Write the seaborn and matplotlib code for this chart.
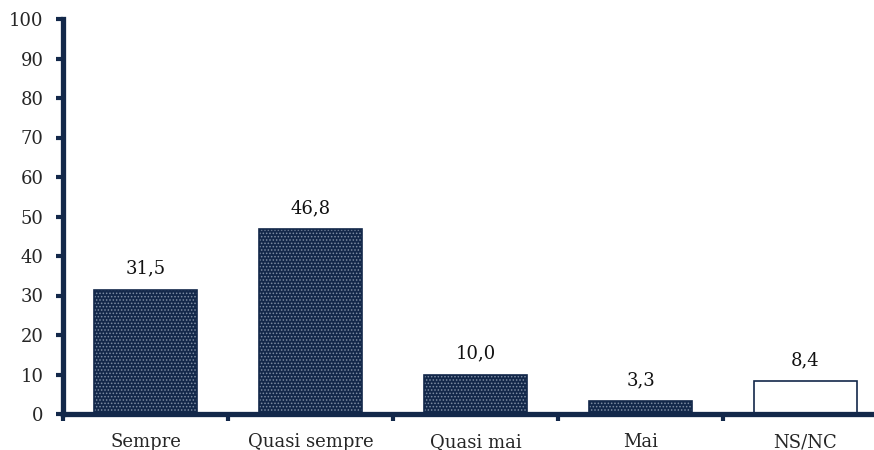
import pandas as pd
import seaborn as sns
import matplotlib.pyplot as plt

categories = ['Sempre', 'Quasi sempre', 'Quasi mai', 'Mai', 'NS/NC']
values = [31.5, 46.8, 10.0, 3.3, 8.4]
yticks = [0, 10, 20, 30, 40, 50, 60, 70, 80, 90, 100]

navy = '#13284a'
dots = '#7d8ca3'

sns.set_style('white')
plt.rcParams['font.family'] = ['DejaVu Serif']
plt.rcParams['hatch.linewidth'] = 0.7

df = pd.DataFrame({'cat': categories, 'val': values})
df['fill'] = [c != 'NS/NC' for c in categories]

fig = plt.figure(figsize=(8.74, 4.5), dpi=100)
# axis runs slightly past the right edge, as in the original
ax = fig.add_axes([63 / 874, 36 / 450, 825 / 874, 395 / 450])

# dotted fill (hatch takes the edge colour), then a navy outline on top
sns.barplot(data=df, x='cat', y='val', ax=ax, width=0.63,
            color=navy, edgecolor=dots, linewidth=0, saturation=1)
for i, p in enumerate(ax.patches):
    if df['fill'][i]:
        p.set_hatch('.....')
    else:
        p.set_facecolor('white')
sns.barplot(data=df, x='cat', y='val', ax=ax, width=0.63, fill=False,
            edgecolor=navy, linewidth=1.2)

for i, v in enumerate(values):
    ax.text(i, v + 3, f'{v:.1f}'.replace('.', ','),
            ha='center', va='bottom', fontsize=13, color='#111111')

ax.set_xlim(-0.5, 4.5)
ax.set_ylim(0, 100)
ax.set_yticks(yticks)
ax.set_xticks([i - 0.5 for i in range(5)], minor=False)
ax.set_xticklabels([])
ax.set_xticks(range(5), minor=True)
ax.set_xticklabels(categories, minor=True, fontsize=13)
ax.tick_params(axis='x', which='minor', bottom=True, length=0, pad=14)
ax.tick_params(axis='x', which='major', bottom=True, direction='out',
               length=5, width=3, color=navy)
ax.tick_params(axis='y', left=True, direction='out', length=5, width=3,
               color=navy, labelsize=13, pad=9)
ax.set_xlabel('')
ax.set_ylabel('')

for s in ['top', 'right']:
    ax.spines[s].set_visible(False)
for s in ['left', 'bottom']:
    ax.spines[s].set_color(navy)
    ax.spines[s].set_linewidth(3.8)

fig.savefig('out.png', dpi=100)
